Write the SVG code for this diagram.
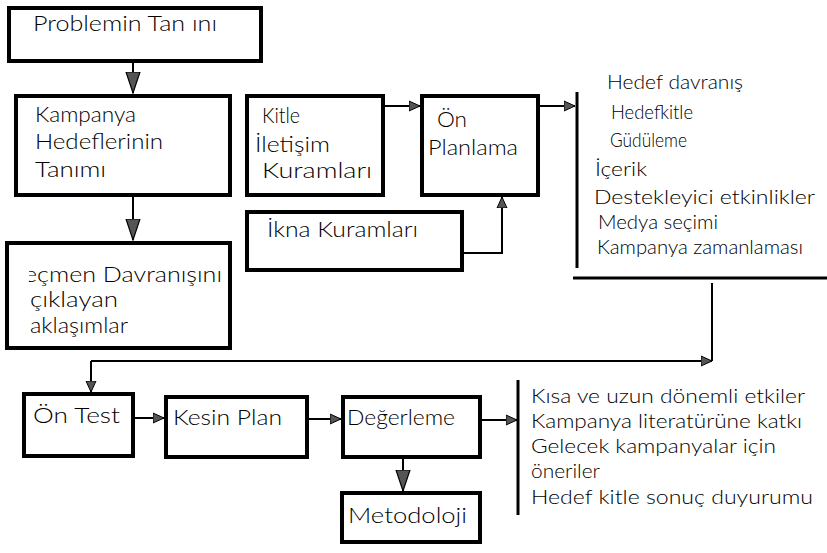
<svg xmlns="http://www.w3.org/2000/svg" width="827" height="553" viewBox="0 0 827 553">
<style>
.box{fill:#fff;stroke:#000;stroke-width:4}
.t{font-family:Lato,"Liberation Sans",Arial,sans-serif;font-weight:300;font-size:21px;fill:#000}
.l{font-family:Lato,"Liberation Sans",Arial,sans-serif;font-weight:300;font-size:19px;fill:#000}
.c{fill:none;stroke:#000;stroke-width:2}
.br{fill:none;stroke:#000;stroke-width:3}
</style>
<defs>
<marker id="big" viewBox="0 0 22 16" refX="21" refY="8" markerWidth="22" markerHeight="16" orient="auto" markerUnits="userSpaceOnUse">
<path d="M0,1 L21,8 L0,15 Z" fill="#555" stroke="#000" stroke-width="1.2"/>
</marker>
<marker id="sm" viewBox="0 0 12 12" refX="11" refY="6" markerWidth="12" markerHeight="12" orient="auto" markerUnits="userSpaceOnUse">
<path d="M0,1 L11,6 L0,11 Z" fill="#555" stroke="#000" stroke-width="1"/>
</marker>
<clipPath id="cl1"><rect x="29" y="255" width="200" height="40"/></clipPath>
</defs>
<rect width="827" height="553" fill="#fff"/>

<g id="connectors">
<line class="c" x1="133" y1="61" x2="133" y2="93" marker-end="url(#big)"/>
<line class="c" x1="133" y1="195" x2="133" y2="240" marker-end="url(#big)"/>
<line class="c" x1="383" y1="106" x2="420" y2="106" marker-end="url(#sm)"/>
<polyline class="c" points="462,253 502,253 502,197" marker-end="url(#sm)"/>
<line class="c" x1="538" y1="106" x2="575" y2="106" marker-end="url(#sm)"/>
<line class="br" x1="577" y1="92" x2="577" y2="268"/>
<line class="br" x1="573" y1="278" x2="827" y2="278"/>
<line class="c" x1="712" y1="283" x2="712" y2="361"/>
<line class="c" x1="91" y1="361" x2="712" y2="361" marker-end="url(#sm)"/>
<line class="c" x1="91" y1="361" x2="91" y2="392" marker-end="url(#sm)"/>
<line class="c" x1="133" y1="418" x2="164" y2="418" marker-end="url(#sm)"/>
<line class="c" x1="307" y1="419" x2="341" y2="419" marker-end="url(#sm)"/>
<line class="c" x1="403" y1="457" x2="403" y2="491" marker-end="url(#big)"/>
<line class="c" x1="480" y1="420" x2="517" y2="420" marker-end="url(#sm)"/>
<line class="br" x1="518" y1="380" x2="518" y2="515"/>
</g>

<g id="problemin">
<rect class="box" x="9" y="8" width="252" height="53"/>
<text class="t" x="33" y="31" textLength="184" lengthAdjust="spacingAndGlyphs">Problemin Tan ını</text>
</g>

<g id="kampanya">
<rect class="box" x="16" y="96" width="214" height="99"/>
<text class="t" x="35" y="122" textLength="101" lengthAdjust="spacingAndGlyphs">Kampanya</text>
<text class="t" x="35" y="149" textLength="128" lengthAdjust="spacingAndGlyphs">Hedeflerinin</text>
<text class="t" x="35" y="177" textLength="71" lengthAdjust="spacingAndGlyphs">Tanımı</text>
</g>

<g id="secmen">
<rect class="box" x="7" y="243" width="223" height="105"/>
<text class="t" x="24" y="282" textLength="198" lengthAdjust="spacingAndGlyphs" clip-path="url(#cl1)">eçmen Davranışını</text>
<text class="t" x="30" y="307" textLength="88" lengthAdjust="spacingAndGlyphs">çıklayan</text>
<text class="t" x="30" y="333" textLength="98" lengthAdjust="spacingAndGlyphs">aklaşımlar</text>
</g>

<g id="kitle">
<rect class="box" x="247" y="96" width="136" height="99"/>
<text class="t" x="262" y="123" textLength="38" lengthAdjust="spacingAndGlyphs">Kitle</text>
<text class="t" x="255" y="152" textLength="75" lengthAdjust="spacingAndGlyphs">İletişim</text>
<text class="t" x="262" y="178" textLength="110" lengthAdjust="spacingAndGlyphs">Kuramları</text>
</g>

<g id="onplanlama">
<rect class="box" x="422" y="96" width="116" height="99"/>
<text class="t" x="437" y="127" textLength="30" lengthAdjust="spacingAndGlyphs">Ön</text>
<text class="t" x="428" y="155" textLength="90" lengthAdjust="spacingAndGlyphs">Planlama</text>
</g>

<g id="ikna">
<rect class="box" x="247" y="212" width="215" height="58"/>
<text class="t" x="267" y="237" textLength="151" lengthAdjust="spacingAndGlyphs">İkna Kuramları</text>
</g>

<g id="plan-list">
<text class="l" x="607" y="89" textLength="136" lengthAdjust="spacingAndGlyphs">Hedef davranış</text>
<text class="l" x="611" y="119" textLength="82" lengthAdjust="spacingAndGlyphs">Hedefkitle</text>
<text class="l" x="610" y="147" textLength="77" lengthAdjust="spacingAndGlyphs">Güdüleme</text>
<text class="l" x="595" y="176" textLength="52" lengthAdjust="spacingAndGlyphs">İçerik</text>
<text class="l" x="594" y="204" textLength="221" lengthAdjust="spacingAndGlyphs">Destekleyici etkinlikler</text>
<text class="l" x="598" y="229" textLength="120" lengthAdjust="spacingAndGlyphs">Medya seçimi</text>
<text class="l" x="597" y="254" textLength="206" lengthAdjust="spacingAndGlyphs">Kampanya zamanlaması</text>
</g>

<g id="ontest">
<rect class="box" x="24" y="394" width="109" height="62"/>
<text class="t" x="33" y="423" textLength="87" lengthAdjust="spacingAndGlyphs">Ön Test</text>
</g>

<g id="kesinplan">
<rect class="box" x="166" y="397" width="141" height="60"/>
<text class="t" x="173" y="425" textLength="109" lengthAdjust="spacingAndGlyphs">Kesin Plan</text>
</g>

<g id="degerleme">
<rect class="box" x="343" y="397" width="137" height="60"/>
<text class="t" x="347" y="425" textLength="108" lengthAdjust="spacingAndGlyphs">Değerleme</text>
</g>

<g id="metodoloji">
<rect class="box" x="342" y="493" width="138" height="49"/>
<text class="t" x="348" y="523" textLength="119" lengthAdjust="spacingAndGlyphs">Metodoloji</text>
</g>

<g id="eval-list">
<text class="l" x="531" y="403" textLength="274" lengthAdjust="spacingAndGlyphs">Kısa ve uzun dönemli etkiler</text>
<text class="l" x="531" y="428" textLength="271" lengthAdjust="spacingAndGlyphs">Kampanya literatürüne katkı</text>
<text class="l" x="531" y="453" textLength="245" lengthAdjust="spacingAndGlyphs">Gelecek kampanyalar için</text>
<text class="l" x="531" y="478" textLength="69" lengthAdjust="spacingAndGlyphs">öneriler</text>
<text class="l" x="531" y="504" textLength="282" lengthAdjust="spacingAndGlyphs">Hedef  kitle sonuç duyurumu</text>
</g>
</svg>
